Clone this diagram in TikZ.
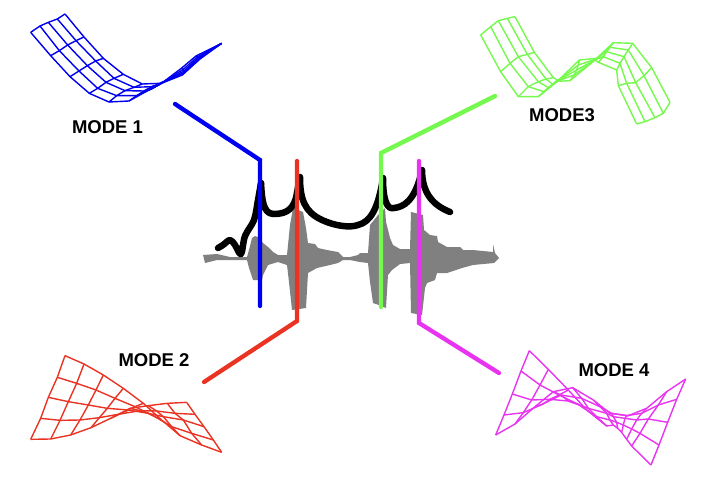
\documentclass[tikz,border=0pt]{standalone}
\usepackage{fontspec}
\setmainfont{Liberation Sans}
\definecolor{mblue}{HTML}{0000F0}
\definecolor{mred}{HTML}{EA3323}
\definecolor{mgreen}{HTML}{75F94C}
\definecolor{mmag}{HTML}{E833F0}
\definecolor{wave}{HTML}{808080}
\tikzset{
  meshline/.style={line width=1.4pt,line join=round},
  modeline/.style={line width=4.3pt,line cap=round,line join=miter},
  curveline/.style={line width=6.5pt,line cap=round,line join=round},
  modelabel/.style={font=\fontsize{18.5}{20}\selectfont\bfseries,inner sep=0pt,text=black},
  zoomed/.style={x=0.33333pt,y=-0.33333pt},
}
% #1 colour, #2 rows, #3 columns, #4 list of rows
\newcommand{\gridmesh}[4]{%
  \foreach \rowpts [count=\mr] in {#4}{%
    \foreach \px/\py [count=\mc] in \rowpts {\coordinate (g\mr-\mc) at (\px,\py);}%
  }%
  \foreach \mr in {1,...,#2}{\draw[meshline,#1] (g\mr-1) foreach \mc in {2,...,#3}{-- (g\mr-\mc)};}%
  \foreach \mc in {1,...,#3}{\draw[meshline,#1] (g1-\mc) foreach \mr in {2,...,#2}{-- (g\mr-\mc)};}%
}
\begin{document}
\begin{tikzpicture}[x=1pt,y=-1pt]
\useasboundingbox (0,0) rectangle (703,484);
% waveform
\fill[wave] (203,255) -- (217,254) -- (230,257) -- (247,257) -- (249,250) -- (252,238) -- (255,236) -- (258,237) -- (263,243) -- (268,247) -- (273,252) -- (278,255) -- (287,255) -- (290,225) -- (293,208) -- (303,212) -- (306,228) -- (308,243) -- (315,244) -- (318,248) -- (327,250) -- (338,252) -- (343,257) -- (350,257) -- (358,255) -- (360,253) -- (368,253) -- (370,225) -- (378,215) -- (385,208) -- (386,222) -- (390,238) -- (393,245) -- (400,249) -- (410,249) -- (411,212) -- (423,215) -- (424,230) -- (430,235) -- (437,236) -- (438,242) -- (447,247) -- (460,247) -- (463,250) -- (473,250) -- (493,252) -- (493,244) -- (495,253) -- (499,258) -- (494,263) -- (473,265) -- (462,268) -- (447,273) -- (437,273) -- (435,280) -- (427,283) -- (425,288) -- (422,315) -- (411,313) -- (410,263) -- (400,264) -- (392,270) -- (388,275) -- (386,308) -- (379,305) -- (373,303) -- (370,282) -- (368,263) -- (360,262) -- (350,260) -- (343,260) -- (338,263) -- (330,265) -- (317,268) -- (308,273) -- (306,308) -- (292,310) -- (289,282) -- (287,265) -- (278,262) -- (268,265) -- (263,275) -- (262,280) -- (253,280) -- (249,268) -- (247,260) -- (217,260) -- (205,263) -- cycle;
% resonance curve
\draw[curveline] plot[smooth,tension=0.55] coordinates {(218,248) (223,245) (230,240) (235,245) (241,254) (245,236) (254,220) (258,200) (261,183)};
\draw[curveline] (261,183) .. controls (262,200) and (263,213) .. (273,214) .. controls (283,214) and (292,212) .. (296,198) -- (300,177) .. controls (300,200) and (305,212) .. (322,220) .. controls (335,226) and (350,228) .. (358,225) .. controls (370,222) and (378,210) .. (383,178) .. controls (383,200) and (387,210) .. (394,208) .. controls (403,207) and (415,202) .. (422,170) .. controls (422,195) and (435,206) .. (450,212);
% mode curves
\coordinate (b1) at (175,104); \coordinate (b2) at (260,160); \coordinate (b3) at (260,306);
\coordinate (r1) at (204,382); \coordinate (r2) at (297,321); \coordinate (r3) at (297,161);
\coordinate (c1) at (495,96); \coordinate (c2) at (381,153); \coordinate (c3) at (381,307);
\coordinate (p1) at (499,373); \coordinate (p2) at (419,323); \coordinate (p3) at (419,161);
\draw[modeline,mblue] (b1) -- (b2) -- (b3);
\draw[modeline,mred] (r1) -- (r2) -- (r3);
\draw[modeline,mgreen] (c1) -- (c2) -- (c3);
\draw[modeline,mmag] (p1) -- (p2) -- (p3);
% MODE 1 mesh
\begin{scope}[zoomed,shift={(60,15)}]
\gridmesh{mblue}{11}{5}{
 {32/82,60/63,85/52,112/42,135/27},
 {92/152,118/137,143/120,168/107,192/96},
 {150/215,177/198,202/182,227/168,250/160},
 {208/265,233/250,258/232,282/220,310/208},
 {267/291,290/272,315/257,342/247,367/237},
 {327/288,350/272,372/258,395/245,420/235},
 {385/256,398/250,408/244,417/238,425/232},
 {427/234,428/233,429/232,430/231,431/230},
 {487/210,490/204,492/198,490/193,484/190},
 {540/162,538/160,535/158,532/156,528/153},
 {605/115,605/115,605/115,605/115,605/115}}
\end{scope}
% MODE 3 mesh
\begin{scope}[zoomed,shift={(1410,45)}]
\gridmesh{mgreen}{11}{5}{
 {32/60,62/35,85/17,112/10,135/5},
 {92/170,120/145,145/125,172/118,193/112},
 {145/245,175/215,205/200,228/192,250/188},
 {205/245,222/230,235/218,248/208,262/195},
 {262/199,263/198,264/197,265/196,266/195},
 {300/197,312/180,320/165,325/150,328/135},
 {375/135,376/134,377/133,378/132,380/130},
 {385/142,400/125,410/110,420/97,430/83},
 {440/165,450/145,462/125,475/105,488/85},
 {445/212,470/205,497/203,522/182,545/158},
 {500/327,525/320,555/308,580/295,600/262}}
\end{scope}
% MODE 2 mesh
\begin{scope}[zoomed,shift={(60,1035)}]
\gridmesh{mred}{9}{5}{
 {135/32,112/97,85/157,62/220,32/283},
 {192/57,170/115,145/170,120/226,92/282},
 {250/90,228/135,205/180,180/225,152/270},
 {310/130,285/160,262/190,238/218,213/248},
 {370/175,345/185,325/195,300/207,272/220},
 {425/225,405/215,385/205,360/197,330/190},
 {480/272,455/245,430/215,410/198,385/182},
 {545/300,515/265,490/225,465/205,442/175},
 {605/322,580/285,552/245,525/208,500/172}}
\end{scope}
% MODE 4 mesh
\begin{scope}[zoomed,shift={(1455,1035)}]
\gridmesh{mmag}{11}{5}{
 {133/17,108/78,82/147,57/210,32/270},
 {190/73,165/120,140/165,115/203,90/237},
 {250/135,222/150,195/163,172/178,150/185},
 {305/195,280/178,250/168,228/150,205/140},
 {365/243,335/215,310/190,290/160,263/128},
 {385/240,375/225,365/205,345/185,325/165},
 {398/250,395/232,385/215,380/205,375/205},
 {410/262,415/240,420/220,425/212,430/212},
 {425/283,440/252,455/225,470/205,485/190},
 {440/303,465/265,490/222,520/180,545/140},
 {498/360,522/300,548/232,575/163,602/102}}
\end{scope}
% labels
\node[modelabel] (m1) at (107.5,127) {MODE 1};
\node[modelabel] (m2) at (154,360) {MODE 2};
\node[modelabel] (m3) at (562,115) {MODE3};
\node[modelabel] (m4) at (614,370) {MODE 4};
\end{tikzpicture}
\end{document}
